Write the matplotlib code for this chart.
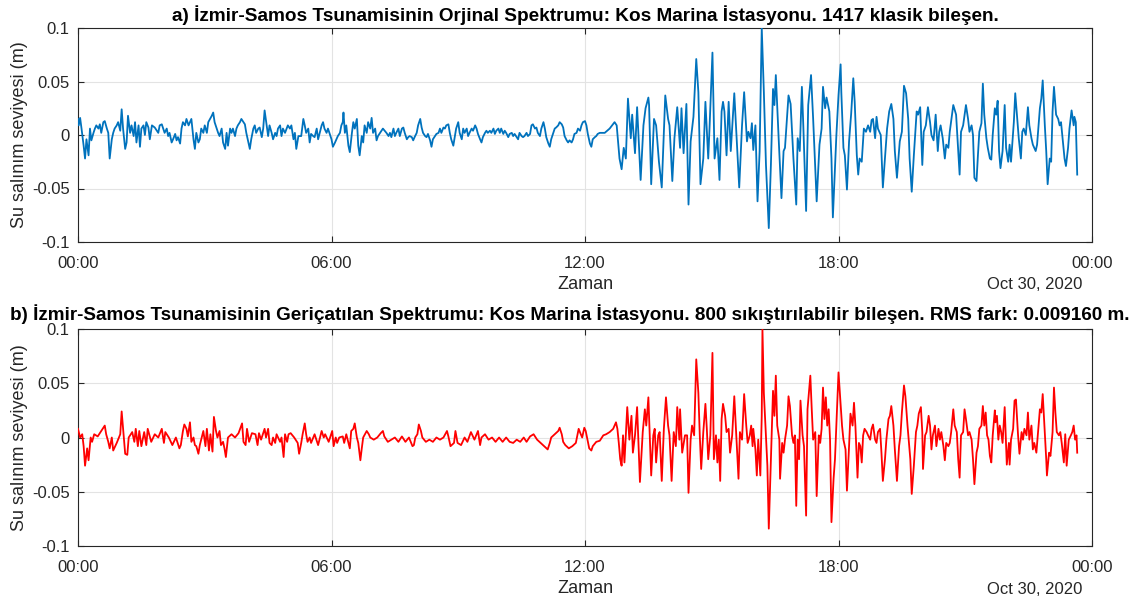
import matplotlib
matplotlib.use("Agg")
import matplotlib.pyplot as plt
from matplotlib.transforms import offset_copy

plt.rcParams['font.family'] = ['Liberation Sans', 'DejaVu Sans']

# ---------------- data (minutes after 00:00, sea level in m) ----------------
title_a = "a) İzmir-Samos Tsunamisinin Orjinal Spektrumu: Kos Marina İstasyonu. 1417 klasik bileşen."
title_b = ("b) İzmir-Samos Tsunamisinin Geriçatılan Spektrumu: Kos Marina İstasyonu. "
           "800 sıkıştırılabilir bileşen. RMS fark: 0.009160 m.")
y_label = "Su salınım seviyesi (m)"
x_label = "Zaman"
date_label = "Oct 30, 2020"
x_tick_minutes = [0, 360, 720, 1080, 1440]
x_tick_labels = ["00:00", "06:00", "12:00", "18:00", "00:00"]
y_ticks = [-0.1, -0.05, 0, 0.05, 0.1]
y_tick_labels = ["-0.1", "-0.05", "0", "0.05", "0.1"]

orig_quiet = [
    (0, .015), (1, .009), (3, .016), (5, .006), (8, -.010), (10, -.022), (12, -.004), (15, -.019),
    (17, .006), (19, -.005), (22, .002), (24, .006), (26, .009), (29, .006), (31, .010), (33, .002),
    (36, .012), (38, .013), (41, .006), (43, .002), (45, -.022), (48, -.004), (50, .002), (52, .006),
    (55, .009), (57, .012), (60, .004), (62, .024), (64, .006), (67, -.013), (69, -.007), (71, .018),
    (74, .002), (76, .009), (79, -.001), (81, .012), (83, -.007), (86, .009), (88, -.011), (90, .006),
    (93, .009), (95, .000), (97, .012), (100, .007), (102, -.004), (105, .009), (109, .007), (114, .002),
    (116, .009), (119, .010), (121, .006), (123, .002), (126, .006), (128, -.001), (130, .002), (133, -.007),
    (135, -.004), (138, .001), (140, -.005), (142, -.002), (145, -.008), (147, .006), (149, .012), (152, .009),
    (154, .015), (157, .009), (159, .012), (161, .015), (164, -.004), (166, -.013), (168, .002), (171, -.007),
    (173, -.004), (175, .006), (178, .002), (180, .009), (183, .002), (185, .012), (190, .018), (192, .021),
    (194, .012), (197, .006), (199, .002), (201, -.001), (204, .006), (206, -.007), (209, -.013), (211, .002),
    (213, -.010), (216, .006), (218, .002), (220, .006), (223, -.001), (225, .006), (227, .009), (230, .012),
    (232, .015), (235, .012), (237, .010), (239, .002), (242, -.007), (244, -.013), (246, -.004), (249, .006),
    (251, .009), (253, .002), (256, .006), (258, .007), (261, -.002), (263, .006), (265, .023), (268, .009),
    (270, -.001), (272, .009), (275, .002), (277, -.004), (280, .002), (282, -.001), (284, .006), (287, .009),
    (289, -.001), (291, .006), (294, .002), (298, .009), (301, .006), (303, .009), (306, -.004), (308, .002),
    (310, -.013), (313, -.001), (317, -.001), (320, .015), (322, .009), (324, .002), (327, .006), (329, -.007),
    (331, .001), (334, -.001), (336, -.002), (339, .006), (341, -.004), (346, .009), (348, .012), (350, .006),
    (353, .002), (355, .006), (360, -.004), (362, -.011), (365, -.007), (367, -.004), (369, -.001), (372, .002),
    (374, .009), (376, .012),
    (377, .021), (379, .002), (381, .009), (384, -.010), (386, -.016), (389, .002), (391, .012), (393, .006),
    (396, .015), (398, -.010), (400, -.019), (403, -.001), (405, -.007), (407, .009), (410, .002), (412, .012),
    (415, .006), (417, .016), (419, .002), (422, .006), (424, -.005), (426, -.001), (429, .002), (431, .004),
    (433, .006), (438, .002), (441, -.001), (443, .002), (445, -.002), (448, .006), (450, -.001), (452, .002),
    (455, .006), (457, -.001), (460, .006), (462, .007), (464, .002), (467, -.004), (469, -.002), (471, -.001),
    (474, -.002), (476, -.005), (478, -.002), (481, .002), (483, .009), (486, .015), (488, .007), (490, .002),
    (493, -.001), (495, -.002), (497, .001), (500, -.005), (502, -.011), (504, -.004), (507, -.001), (509, .001),
    (512, .002), (514, .006), (516, .002), (519, .007), (521, .006), (523, .009), (526, .010), (528, .002),
    (530, -.004), (533, -.010), (535, -.002), (537, .006), (540, .012), (542, .002), (545, -.004), (547, .006),
    (549, .002), (552, .006), (554, -.001), (556, .002), (559, .006), (561, .004), (564, .009), (566, .006),
    (568, .001), (571, -.004), (573, -.007), (575, -.002), (578, .002), (580, .004), (582, .002), (585, .004),
    (587, .002), (590, .006), (592, .001), (594, .004), (597, .006), (599, .002), (601, .006), (604, .001),
    (606, .004), (608, .002), (611, -.002), (613, .001), (616, .002), (618, -.001), (620, .001), (623, -.002),
    (625, -.004), (627, .002), (630, -.001), (632, -.002), (634, -.001), (637, .002), (639, -.001), (642, .001),
    (644, .009), (646, .010), (649, .006), (651, .007), (653, .002), (656, -.001), (658, .006), (661, .012),
    (663, .006), (665, -.002), (668, -.008), (670, -.011), (672, -.004), (675, .002), (677, .006), (679, .007),
    (682, .009), (684, .012), (687, .010), (689, .007), (691, -.001), (694, -.005), (696, -.007), (698, -.005),
    (701, -.007), (703, -.004), (705, .001), (708, .002), (710, .006), (713, .004), (715, .009), (717, .012),
    (720, .013), (722, .009), (724, .001), (727, -.008), (729, -.011), (731, -.004), (734, -.002), (736, -.001),
    (738, .001), (741, .002),
]

orig_wave = [
    (748, .002), (755, .006), (762, .012), (765, .009), (769, -.022), (772, -.032), (775, -.012), (778, -.022),
    (781, .034), (785, -.003), (787, .019), (791, -.017), (794, .026), (799, -.042), (803, .009), (806, .025),
    (810, .035), (811, .028), (814, -.046), (818, .015), (821, .009), (825, -.025), (829, -.049), (834, .037),
    (838, .015), (840, .009), (844, -.043), (847, -.003), (851, .026), (855, -.012), (857, .025), (860, -.017),
    (864, .029), (867, -.065), (870, -.006), (874, .017), (878, .071), (881, .040), (884, -.046), (888, -.022),
    (891, .031), (895, -.022), (897, .009), (901, .077), (904, -.022), (908, -.003), (911, -.042), (914, .022),
    (916, .031), (918, .022),
    (921, -.019), (924, .031), (927, -.015), (932, .039), (937, -.025), (939, -.049), (943, .009), (946, .040),
    (950, -.006), (952, .003), (955, -.003), (957, .011), (959, -.014), (962, .009), (965, -.062), (968, -.015),
    (971, .100), (974, .040), (977, -.028), (981, -.087), (984, -.028), (987, .043), (989, .028), (991, .056),
    (995, -.003), (999, -.059), (1002, -.015), (1004, -.012), (1009, .037), (1012, .029), (1016, -.022),
    (1020, -.065), (1022, -.003), (1025, -.015), (1028, .045), (1030, .009), (1034, -.071), (1037, .028),
    (1041, .056), (1044, .015), (1049, -.062), (1053, -.009), (1056, .006), (1058, .045), (1061, .025),
    (1063, .035), (1067, .022), (1070, -.022), (1072, -.077), (1077, .000), (1080, .037), (1083, .066),
    (1084, .040), (1087, -.012), (1089, -.019), (1092, -.051), (1095, -.006), (1098, .020), (1101, .053),
    (1103, .031), (1106, -.019), (1108, -.037), (1110, -.022), (1113, -.025), (1116, .006), (1119, .003),
    (1122, .009), (1125, .003), (1127, .014), (1129, .015), (1132, -.003), (1134, .017), (1136, .006),
    (1140, .000), (1143, -.049), (1147, -.012), (1149, .006), (1152, .022), (1155, .029), (1158, .015),
    (1160, -.015), (1163, -.040), (1167, -.006), (1170, .003), (1173, .046), (1176, .039), (1179, .015),
    (1181, -.022), (1184, -.053), (1187, -.019), (1191, .022), (1193, .019), (1196, .026), (1199, -.028),
    (1201, .003), (1204, .009), (1207, .026), (1210, .012), (1212, .000), (1215, -.005), (1218, .019),
    (1221, -.015), (1223, .003), (1225, .009), (1228, -.003), (1231, -.022), (1233, -.009), (1236, -.012),
    (1238, .003), (1243, .028), (1247, .019), (1250, -.015), (1252, -.037),
    (1254, .003), (1257, .009), (1261, .028), (1264, .015), (1266, .003), (1269, .009), (1271, .000),
    (1273, -.040), (1276, -.043), (1278, -.019), (1280, .003), (1283, .011), (1285, .048), (1287, .019),
    (1290, -.003), (1292, -.012), (1295, -.022), (1297, -.023), (1299, .000), (1302, .025), (1304, .019),
    (1306, .032), (1308, -.015), (1310, -.031), (1313, -.015), (1316, .028), (1318, -.012), (1321, -.025),
    (1323, -.009), (1325, -.025), (1329, .012), (1331, .039), (1333, .022), (1336, -.003), (1339, -.022),
    (1341, .003), (1343, .006), (1346, .000), (1349, .026), (1351, .009), (1354, -.003), (1356, -.009),
    (1360, -.015), (1362, -.009), (1366, .025), (1368, .034), (1370, .051), (1373, .009), (1375, -.015),
    (1377, -.046), (1380, -.022), (1382, -.025), (1384, .022), (1386, .045), (1389, .019), (1392, .015),
    (1394, .009), (1396, .012), (1399, -.009), (1401, -.022), (1403, -.029), (1406, -.012), (1408, .006),
    (1411, .023), (1414, .009), (1415, .017), (1417, .012), (1419, -.037),
]

recon_quiet = [
    (0, .008), (3, .000), (6, .003), (8, -.008), (10, -.026), (13, -.010), (15, -.021), (18, .000),
    (20, -.004), (23, .003), (28, .001), (33, .006), (38, .011), (40, .003), (43, -.004), (45, -.010),
    (48, .000), (50, -.012), (55, -.005), (60, .003), (62, .024), (65, .000), (67, -.015), (70, -.016),
    (72, .000), (77, .005), (80, -.004), (82, .008), (85, -.008), (87, .006), (90, -.008), (94, .005),
    (97, -.007), (99, .008), (104, -.004), (109, .003), (114, .000), (119, .008), (122, -.005), (124, .005),
    (129, .000), (134, -.007), (139, .000), (141, -.004), (144, -.010), (146, -.007), (149, .006), (151, .012),
    (154, .008), (156, .001), (159, .014), (161, -.004), (164, .000), (166, -.007), (168, -.008), (171, -.015),
    (173, -.007), (178, .006), (181, -.008), (183, .008), (186, -.012), (188, .003), (191, -.013), (193, .019),
    (196, .006), (198, .000), (201, .006), (203, -.007), (206, -.004), (208, -.010), (210, -.018), (213, .000),
    (218, .003), (223, .000), (228, .004), (233, .013), (235, -.004), (238, -.007), (240, .008), (243, -.004),
    (247, .004), (252, .003), (255, -.007), (257, .004), (260, -.002), (265, .008), (267, .000), (270, .008),
    (272, -.005), (275, -.007), (277, .000), (280, -.005), (282, .003), (287, -.004), (289, .000), (292, -.018),
    (294, .003), (297, -.004), (299, .003), (302, .004), (307, .000), (312, -.005), (314, -.015), (317, -.005),
    (319, .003), (322, .013), (324, .003), (326, -.004), (329, .000), (331, -.005), (336, .003), (341, -.007),
    (346, .006), (349, .000), (351, .003), (356, -.004), (361, .006), (363, -.008), (366, .000), (368, -.005),
    (371, .000), (376, .001), (378, -.005), (381, .003), (386, -.010), (388, .006), (391, .008), (393, .013),
    (396, .000), (398, -.005), (401, -.021), (403, -.010), (405, .000), (410, .006), (413, .003), (415, .000),
    (420, -.002), (425, .000), (430, .004), (433, .006), (435, .001), (440, -.004), (445, -.002), (450, .000),
    (455, -.004), (460, .001), (465, -.004), (470, .000), (475, -.008), (477, -.007), (479, .000), (482, .003),
    (484, .012), (487, .006), (489, .000), (494, -.004), (499, -.002), (504, -.004), (509, .000), (514, -.002),
    (519, .000), (524, .006), (526, .001), (529, -.008), (534, -.005), (536, .006), (539, -.005), (544, -.007),
    (549, .000), (553, -.004), (558, .005), (563, -.002), (568, .006), (571, -.007), (573, .000), (578, .003),
    (583, -.002), (588, .000), (593, -.004), (598, .000), (603, -.004), (608, .000), (613, -.004), (618, -.005),
    (623, -.002), (628, -.004), (633, .000), (637, -.004), (642, .001), (647, .003), (652, -.002), (657, -.005),
    (662, -.008), (667, -.011), (670, -.005), (672, .000), (677, .003), (682, .006), (684, .009), (687, .003),
    (689, -.004), (692, -.007), (697, -.010), (702, -.008), (707, -.005), (711, .008), (714, .003), (716, .000),
    (719, .009), (721, .006), (726, -.010), (729, -.012), (731, -.008), (736, -.004),
]

recon_wave = [
    (741, -.003), (746, .002), (750, .003), (755, .005), (760, .008), (764, .014), (766, .008), (768, -.005),
    (770, -.020), (772, -.026), (774, .002), (776, -.023), (780, .028), (783, -.002), (786, .020), (788, -.014),
    (791, .002), (794, .028), (798, -.041), (802, .005), (805, .026), (807, .011), (810, .037), (812, .002),
    (814, -.035), (817, .002), (819, .008), (821, -.023), (824, .002), (826, .005), (829, -.040), (832, .008),
    (835, .037), (838, .011), (840, .002), (843, -.040), (846, .005), (849, -.008), (851, .028), (854, -.002),
    (855, .026), (858, -.014), (862, .002), (865, .002), (867, -.051), (870, -.002), (872, .011), (875, .002),
    (878, .072), (881, .041), (883, .002), (885, -.029), (888, .005), (891, .031), (893, .008), (895, -.020),
    (898, .002), (901, .078), (903, -.020), (906, .002), (908, -.023), (910, -.002), (912, -.040), (914, .017),
    (916, .031),
    (919, .020), (921, .005), (924, .008), (926, -.014), (929, .002), (932, .038), (936, -.014), (938, -.038),
    (940, .005), (943, -.002), (946, .040), (949, .011), (951, -.005), (954, .002), (956, .011), (958, -.008),
    (959, .008), (962, -.011), (964, -.035), (966, -.002), (969, -.035), (971, .020), (972, .100), (974, .041),
    (977, .002), (979, -.026), (981, -.084), (984, -.020), (987, .043), (989, .020), (991, .057), (993, .011),
    (996, -.002), (997, -.038), (1000, -.005), (1002, -.014), (1004, -.002), (1007, .011), (1009, .038),
    (1011, .029), (1014, .002), (1016, -.005), (1018, .002), (1020, -.063), (1022, -.002), (1024, -.020),
    (1026, .034), (1029, .002), (1031, -.008), (1034, -.072), (1036, .026), (1040, .057), (1042, .026),
    (1044, -.002), (1047, .005), (1049, -.054), (1052, .002), (1054, -.005), (1056, .008), (1058, .046),
    (1060, .017), (1062, .037), (1064, .011), (1066, .026), (1068, -.002), (1070, -.078), (1073, -.038),
    (1075, -.020), (1078, .029), (1080, .060), (1082, .041), (1085, .011), (1087, -.002),
    (1090, -.011), (1092, -.049), (1095, -.008), (1097, .022), (1100, .011), (1102, .032), (1104, .011),
    (1107, -.037), (1109, -.005), (1111, -.008), (1113, -.023), (1115, .002), (1117, .008), (1120, .005),
    (1122, .002), (1125, -.002), (1127, .008), (1129, .012), (1132, -.002), (1134, -.005), (1136, .005),
    (1139, .008), (1141, -.014), (1143, -.040), (1146, -.020), (1148, -.002), (1151, .017), (1153, .020),
    (1155, .029), (1158, .011), (1160, -.011), (1163, -.040), (1166, -.008), (1168, .002), (1170, .023),
    (1173, .048), (1175, .038), (1178, .011), (1180, -.005), (1182, -.020), (1184, -.052), (1187, -.026),
    (1190, .005), (1192, .011), (1194, .022), (1197, .028), (1199, .005), (1200, -.029), (1203, .002),
    (1205, .005), (1208, .020), (1210, .011), (1212, -.011), (1214, .002), (1217, .011), (1219, -.008),
    (1222, .008), (1224, -.002), (1226, .005), (1229, -.008), (1231, -.021), (1233, -.005), (1236, -.008),
    (1238, -.005), (1240, .005), (1243, .026), (1245, .011), (1248, .005), (1250, -.020), (1252, -.037),
    (1254, .002), (1257, .005), (1259, .026), (1261, .017), (1264, .002), (1266, .005), (1269, -.002),
    (1271, -.020), (1273, -.043), (1276, -.014), (1278, -.008), (1280, .008), (1283, .011), (1285, .029),
    (1287, .011), (1289, .023), (1291, .002), (1293, -.002), (1295, -.017), (1297, -.023), (1299, .002),
    (1302, .025), (1303, .014), (1305, .020), (1307, -.002), (1309, .011), (1311, .005), (1313, -.005),
    (1316, .028), (1319, -.025), (1322, -.005), (1323, -.025), (1325, -.002), (1328, .008), (1330, .034),
    (1332, .035), (1335, .002), (1337, -.015), (1340, .005), (1342, -.002), (1344, .008), (1347, .002),
    (1349, .023), (1351, -.002), (1354, .011), (1356, -.011), (1358, -.005), (1361, -.014), (1363, .002),
    (1366, .026), (1368, .023), (1370, .040), (1373, .005), (1375, -.020), (1376, -.035), (1379, -.014),
    (1381, -.017), (1384, .005), (1386, .046), (1388, .023), (1390, .005), (1393, .002), (1395, .005),
    (1397, -.005), (1400, -.023), (1402, .003), (1404, -.026), (1407, -.002), (1410, .002), (1412, .005),
    (1414, .011), (1416, -.002), (1418, .002), (1419, -.014),
]

# ---------------- figure ----------------
W, H = 1140, 603
fig = plt.figure(figsize=(W / 100, H / 100), dpi=100)

def px_axes(left, top, right, bottom):
    return fig.add_axes([left / W, 1 - bottom / H, (right - left) / W, (bottom - top) / H])

ax_a = px_axes(78, 28, 1092, 242)
ax_b = px_axes(78, 329, 1092, 546)

edge = '#262626'
for ax, series, color in [
    (ax_a, orig_quiet + orig_wave, '#0072BD'),
    (ax_b, recon_quiet + recon_wave, '#FF0000'),
]:
    t = [p[0] for p in series]
    h = [p[1] for p in series]
    ax.plot(t, h, color=color, lw=1.3, zorder=3)
    ax.set_xlim(0, 1440)
    ax.set_ylim(-0.1, 0.1)
    ax.set_xticks(x_tick_minutes)
    ax.set_xticklabels(x_tick_labels)
    ax.set_yticks(y_ticks)
    ax.set_yticklabels(y_tick_labels)
    ax.grid(True, color='#e3e3e3', lw=0.8, zorder=0)
    ax.set_axisbelow(True)
    ax.tick_params(direction='in', length=4, width=0.8, colors=edge, labelsize=12,
                   top=True, right=True)
    ax.tick_params(axis='x', pad=10)
    ax.tick_params(axis='y', pad=6)
    for s in ax.spines.values():
        s.set_color(edge)
        s.set_linewidth(0.8)
    ax.set_ylabel(y_label, fontsize=13, color=edge, labelpad=3)
    ax.set_xlabel(x_label, fontsize=13, color=edge, labelpad=4)
    # date stamp: right edge ~10 px left of the axes corner, ~43 px below the axes
    tr = offset_copy(ax.transAxes, fig=fig, x=-10, y=-43, units='dots')
    ax.text(1.0, 0.0, date_label, transform=tr, ha='right', va='center',
            fontsize=12, color=edge)

ax_a.set_title(title_a, fontsize=13.7, fontweight='bold', pad=5)
fig.text(570 / W, 1 - 314 / H, title_b, ha='center', va='center', fontsize=13.6, fontweight='bold')

fig.savefig("out.png", dpi=100)
